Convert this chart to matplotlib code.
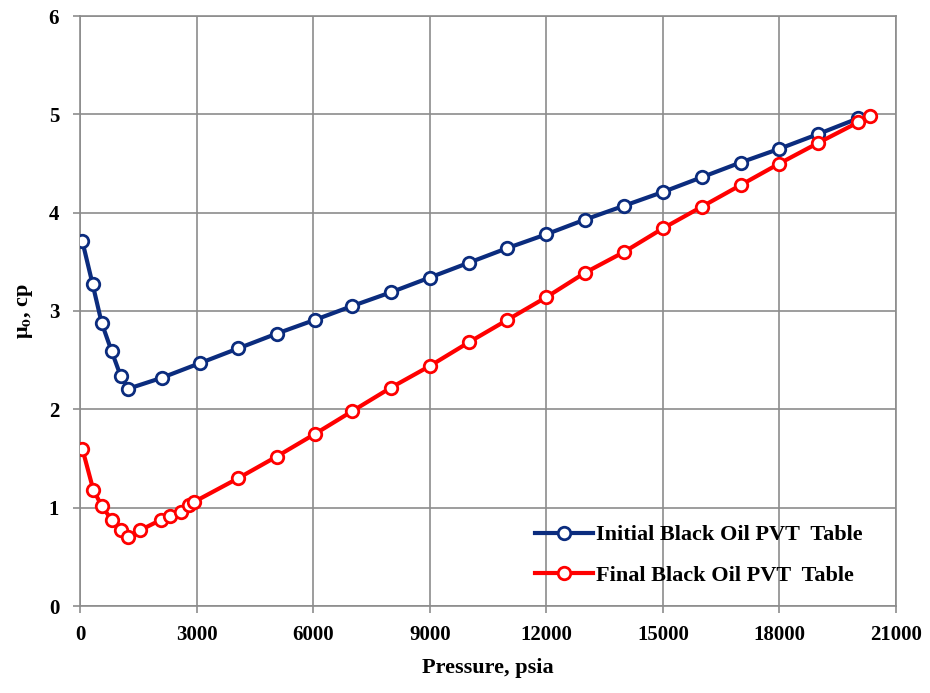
import matplotlib
matplotlib.use("Agg")
import matplotlib.pyplot as plt

plt.rcParams['font.family'] = ['Liberation Serif', 'DejaVu Serif']
plt.rcParams['font.weight'] = 'bold'
plt.rcParams['mathtext.fontset'] = 'stix'

# Initial Black Oil PVT Table
p_initial = [60, 326, 557, 815, 1046, 1245, 2100, 3088, 4074, 5062, 6047, 7000, 8000,
             9000, 10000, 11000, 12000, 13000, 14000, 15000, 16000, 17000, 18000, 19000, 20030]
mu_initial = [3.71, 3.27, 2.88, 2.59, 2.34, 2.21, 2.32, 2.47, 2.62, 2.77, 2.91, 3.05, 3.19,
              3.34, 3.49, 3.64, 3.78, 3.93, 4.07, 4.21, 4.36, 4.51, 4.65, 4.80, 4.96]

# Final Black Oil PVT Table
p_final = [60, 343, 557, 815, 1046, 1245, 1544, 2076, 2316, 2590, 2813, 2942, 4074, 5062,
           6047, 7000, 8000, 9000, 10000, 11000, 12000, 13000, 14000, 15000, 16000, 17000,
           18000, 19000, 20030, 20330]
mu_final = [1.60, 1.18, 1.02, 0.875, 0.77, 0.70, 0.77, 0.875, 0.92, 0.96, 1.03, 1.06, 1.30, 1.52,
            1.75, 1.98, 2.22, 2.44, 2.68, 2.91, 3.14, 3.39, 3.60, 3.84, 4.06, 4.28,
            4.50, 4.71, 4.92, 4.98]

x_ticks = [0, 3000, 6000, 9000, 12000, 15000, 18000, 21000]
y_ticks = [0, 1, 2, 3, 4, 5, 6]

fig = plt.figure(figsize=(9.3, 6.93), dpi=100)
ax = fig.add_axes([80/930, 87/693, 816/930, 590/693])

blue = '#0B2C7E'
red = '#FF0000'
ax.plot(p_initial, mu_initial, color=blue, lw=3, marker='o', ms=9, mfc='white',
        mec=blue, mew=2, label='Initial Black Oil PVT  Table', zorder=3)
ax.plot(p_final, mu_final, color=red, lw=3, marker='o', ms=9, mfc='white',
        mec=red, mew=2, label='Final Black Oil PVT  Table', zorder=4)

ax.set_xlim(0, 21000)
ax.set_ylim(0, 6)
ax.set_xticks(x_ticks)
ax.set_yticks(y_ticks)
ax.tick_params(axis='both', labelsize=15, color='#8c8c8c', length=5, width=1.2)
ax.tick_params(axis='x', pad=9)
ax.tick_params(axis='y', pad=10)
for lab in ax.get_xticklabels() + ax.get_yticklabels():
    lab.set_fontweight('bold')
ax.grid(True, color='#8c8c8c', lw=1.2)
ax.set_axisbelow(True)
for s in ax.spines.values():
    s.set_color('#8c8c8c')
    s.set_linewidth(1.2)

ax.set_xlabel('Pressure, psia', fontsize=16, fontweight='bold', labelpad=9)
ax.set_ylabel(r'μ$_\mathbf{o}$, cp', fontsize=16, fontweight='bold', labelpad=10)

leg = ax.legend(loc='lower right', bbox_to_anchor=(0.984, 0.0), frameon=False,
                prop={'family': 'Liberation Serif', 'weight': 'bold', 'size': 16},
                handlelength=2.6, handletextpad=0.15, labelspacing=0.9)

fig.savefig('out.png', dpi=100)
